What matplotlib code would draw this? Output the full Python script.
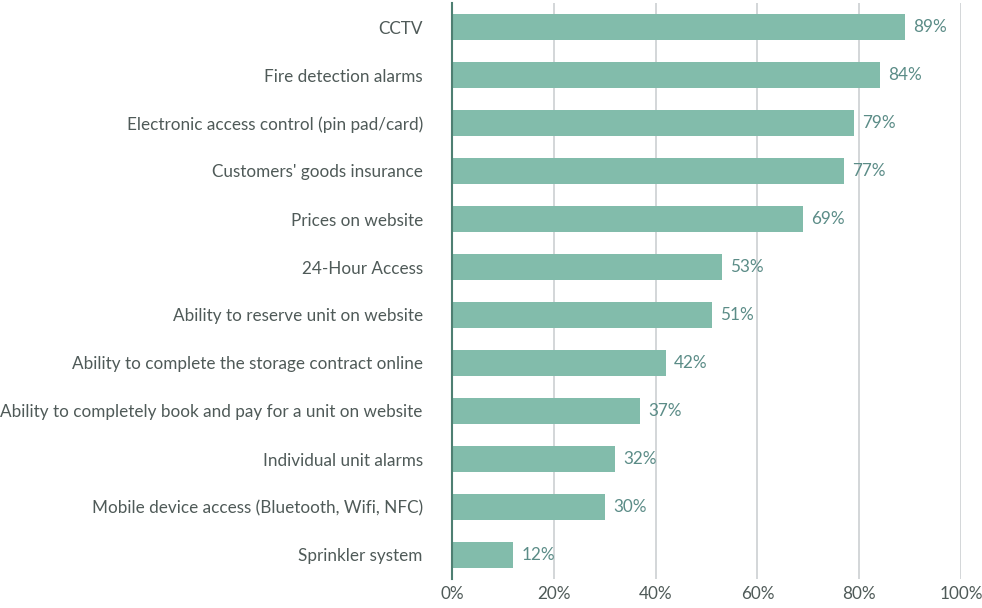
import matplotlib
matplotlib.use("Agg")
import matplotlib.pyplot as plt

categories = [
    "CCTV",
    "Fire detection alarms",
    "Electronic access control (pin pad/card)",
    "Customers' goods insurance",
    "Prices on website",
    "24-Hour Access",
    "Ability to reserve unit on website",
    "Ability to complete the storage contract online",
    "Ability to completely book and pay for a unit on website",
    "Individual unit alarms",
    "Mobile device access (Bluetooth, Wifi, NFC)",
    "Sprinkler system",
]
values = [89, 84, 79, 77, 69, 53, 51, 42, 37, 32, 30, 12]
xticks = [0, 20, 40, 60, 80, 100]
xtick_labels = ["0%", "20%", "40%", "60%", "80%", "100%"]

plt.rcParams['font.family'] = ['Lato', 'DejaVu Sans']

fig = plt.figure(figsize=(9.82, 6.08), dpi=100)
ax = fig.add_axes([452/982, 1-579/608, 509/982, 576/608])

bar_color = "#82bcab"
label_color = "#4f5a58"
value_color = "#5b8c87"

ypos = list(range(len(categories)))
ax.barh(ypos, values, height=0.54, color=bar_color, zorder=3)
for y, v in zip(ypos, values):
    ax.text(v + 1.6, y, f"{v}%", va="center", ha="left", fontsize=12.3, color=value_color, zorder=4)

ax.set_ylim(len(categories) - 0.5, -0.5)
ax.set_xlim(0, 100)
ax.set_yticks(ypos)
ax.set_yticklabels(categories, fontsize=12.3, color=label_color)
ax.set_xticks(xticks)
ax.set_xticklabels(xtick_labels, fontsize=12.3, color=label_color)
ax.tick_params(axis='y', length=0, pad=21)
ax.tick_params(axis='x', length=0, pad=5)

ax.grid(axis='x', color="#d3d6d8", linewidth=1.4, zorder=0)
ax.set_axisbelow(True)
for s in ["top", "right", "bottom"]:
    ax.spines[s].set_visible(False)
ax.spines["left"].set_color("#4e7f72")
ax.spines["left"].set_linewidth(1.5)
ax.spines["left"].set_zorder(5)

fig.savefig("out.png", dpi=100)
